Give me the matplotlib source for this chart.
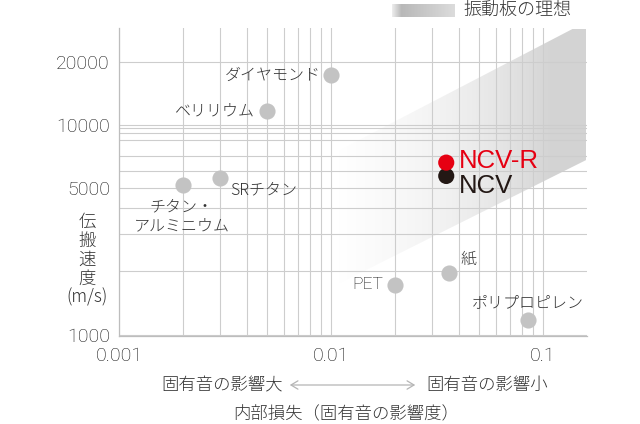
import matplotlib
matplotlib.use('Agg')
import matplotlib.pyplot as plt
import numpy as np
from matplotlib.patches import Polygon
from matplotlib.ticker import NullFormatter

plt.rcParams['font.family'] = ['Noto Sans CJK JP', 'DejaVu Sans']
plt.rcParams['font.weight'] = 'light'

# 振動板材料: 内部損失 / 伝搬速度 (m/s)
materials = ['ダイヤモンド', 'ベリリウム', 'チタン・\nアルミニウム', 'SRチタン', '紙', 'PET', 'ポリプロピレン']
loss = [0.01, 0.005, 0.002, 0.003, 0.036, 0.02, 0.085]
speed = [17200, 11600, 5150, 5600, 1960, 1730, 1180]

ncv_names = ['NCV', 'NCV-R']
ncv_loss = [0.035, 0.035]
ncv_speed = [5700, 6600]
ncv_colors = ['#231815', '#e60012']

# 振動板の理想 (帯の上下端)
band_x = [0.001, 0.161]
band_upper = [2150, 31000]
band_lower = [524, 6810]

y_major = [1000, 5000, 10000, 20000]
y_minor = [2000, 3000, 4000, 6000, 7100, 8450, 9150, 9600]
x_major = [0.001, 0.01, 0.1]
x_minor = [k * 10.0**e for e in (-3, -2) for k in range(2, 10)]

TXT = '#333333'
NUMC = '#111111'
JP = ['Noto Sans CJK JP', 'DejaVu Sans']
NUM = ['Roboto', 'Liberation Sans', 'DejaVu Sans']

# ラベル位置 (offset pixels, ha)
label_pos = {
    'ダイヤモンド': (-10, 0, 'right'),
    'ベリリウム': (-12, 0, 'right'),
    'チタン・\nアルミニウム': (-1, -31, 'center'),
    'SRチタン': (10, -12, 'left'),
    '紙': (12, 14, 'left'),
    'PET': (-12, 0, 'right'),
    'ポリプロピレン': (0, 17, 'center'),
}
ncv_pos = {'NCV': (13, -10), 'NCV-R': (13, 2)}

W, H = 640, 424
fig = plt.figure(figsize=(6.4, 4.24), dpi=100)
ax = fig.add_axes([119 / W, 1 - 336 / H, (586.7 - 119) / W, (336 - 28.3) / H])
ax.set_xscale('log'); ax.set_yscale('log')

# gradient band
poly = Polygon([(band_x[0], band_lower[0]), (band_x[1], band_lower[1]),
                (band_x[1], band_upper[1]), (band_x[0], band_upper[0])],
               closed=True, facecolor='none', edgecolor='none')
ax.add_patch(poly)
g = np.linspace(0, 1, 256)
rgba = np.zeros((1, 256, 4))
rgba[..., :3] = 0.83
rgba[0, :, 3] = np.clip((g - 0.06) / 0.62, 0, 1) ** 0.8
im = ax.imshow(rgba, extent=(band_x[0], band_x[1], 500, 32000), aspect='auto',
               origin='lower', zorder=0.5, interpolation='bilinear')
im.set_clip_path(poly)

ax.set_xlim(0.001, 0.161)
ax.set_ylim(985, 28800)

ax.scatter(loss, speed, s=135, color='#c3c3c3', zorder=3, linewidths=0)
ax.scatter(ncv_loss, ncv_speed, s=135, color=ncv_colors, zorder=4, linewidths=0)

for name, x, y in zip(materials, loss, speed):
    dx, dy, ha = label_pos[name]
    is_num = name == 'PET'
    ax.annotate(name, (x, y), xytext=(dx, dy), textcoords='offset pixels',
                ha=ha, va='center', fontsize=12.5 if is_num else 11.5,
                color=NUMC if is_num else TXT, family=NUM if is_num else JP,
                linespacing=1.15, zorder=5)
for name, x, y, c in zip(ncv_names, ncv_loss, ncv_speed, ncv_colors):
    dx, dy = ncv_pos[name]
    ax.annotate(name, (x, y), xytext=(dx, dy), textcoords='offset pixels',
                ha='left', va='center', fontsize=18.5, color=c, weight='normal',
                family=['Liberation Sans', 'DejaVu Sans'], zorder=5)

ax.set_xticks(x_major, labels=['0.001', '0.01', '0.1'])
ax.set_xticks(x_minor, minor=True)
ax.set_yticks(y_major, labels=[str(v) for v in y_major])
ax.set_yticks(y_minor, minor=True)
ax.xaxis.set_minor_formatter(NullFormatter())
ax.yaxis.set_minor_formatter(NullFormatter())
ax.tick_params(which='both', length=0, labelsize=14, labelcolor=NUMC)
ax.tick_params(axis='y', pad=6.5)
ax.tick_params(axis='x', pad=8)
for lbl in ax.get_xticklabels() + ax.get_yticklabels():
    lbl.set_family(NUM); lbl.set_weight('light')
ax.grid(True, which='both', color='#cdcdcd', lw=0.8)
for s in ('top', 'right'):
    ax.spines[s].set_visible(False)
for s in ('left', 'bottom'):
    ax.spines[s].set_color('#bdbdbd'); ax.spines[s].set_linewidth(0.9)

# y label (縦書き)
fig.text(87 / W, 1 - 260 / H, '伝\n搬\n速\n度\n(m/s)', ha='center', va='center',
         fontsize=12.5, color=TXT, linespacing=1.05)

# x labels
fig.text(283 / W, 1 - 385 / H, '固有音の影響大', ha='right', va='center', fontsize=12.5, color=TXT)
fig.text(426 / W, 1 - 385 / H, '固有音の影響小', ha='left', va='center', fontsize=12.5, color=TXT)
fig.text(346 / W, 1 - 414 / H, '内部損失（固有音の影響度）', ha='center', va='center', fontsize=12.5, color=TXT)
ax.annotate('', xy=(418 / W, 1 - 385 / H), xytext=(287 / W, 1 - 385 / H), xycoords='figure fraction',
            arrowprops=dict(arrowstyle='<->,head_length=0.5,head_width=0.3', color='#b5b5b5', lw=0.9))

# legend
lax = fig.add_axes([391.7 / W, 1 - 17 / H, (454 - 391.7) / W, 13.5 / H])
t = np.linspace(0, 1, 200)
lv = np.where(t < 0.15, 0.93 - (0.93 - 0.72) * t / 0.15, 0.72 + (0.86 - 0.72) * (t - 0.15) / 0.85)
lax.imshow(np.tile(lv, (2, 1)), cmap='gray', vmin=0, vmax=1, aspect='auto', interpolation='bilinear')
lax.axis('off')
fig.text(463 / W, 1 - 10 / H, '振動板の理想', ha='left', va='center', fontsize=13, color=TXT)

fig.savefig('out.png', dpi=100)
